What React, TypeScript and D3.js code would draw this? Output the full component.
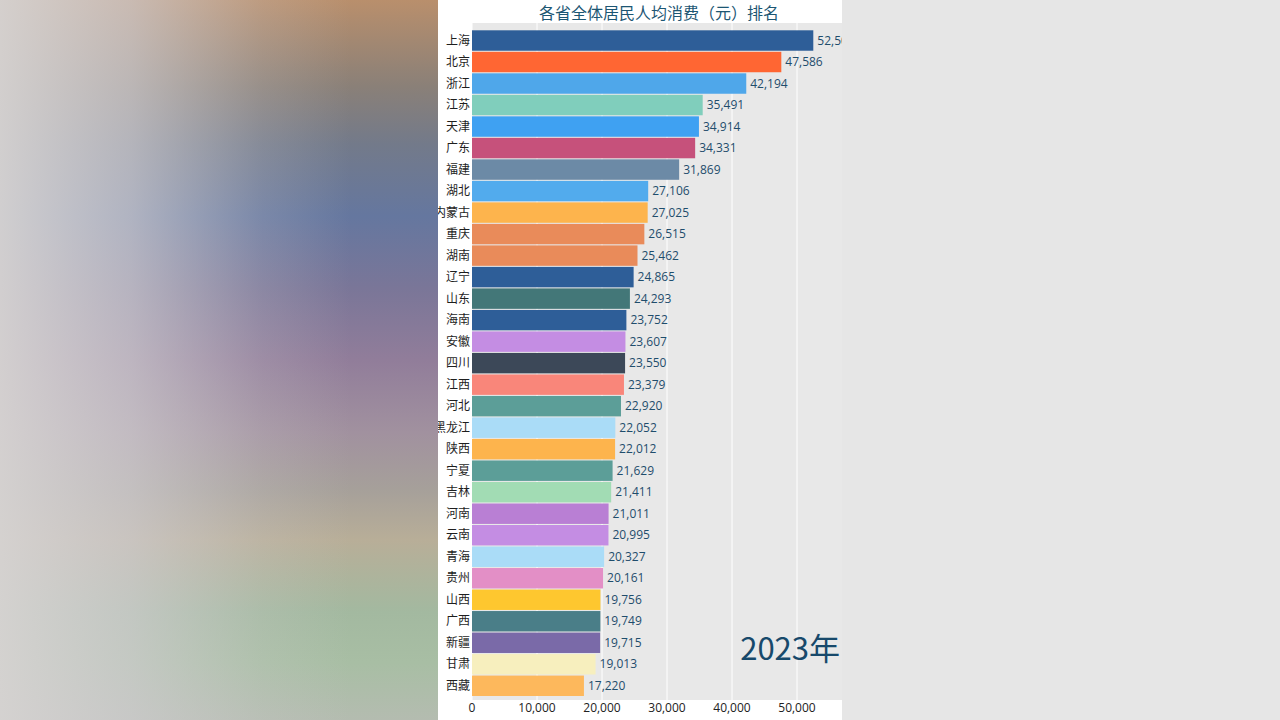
import React from "react";
import * as d3 from "d3";

const provinces = ["上海","北京","浙江","江苏","天津","广东","福建","湖北","内蒙古","重庆","湖南","辽宁","山东","海南","安徽","四川","江西","河北","黑龙江","陕西","宁夏","吉林","河南","云南","青海","贵州","山西","广西","新疆","甘肃","西藏"];
const values = [52508,47586,42194,35491,34914,34331,31869,27106,27025,26515,25462,24865,24293,23752,23607,23550,23379,22920,22052,22012,21629,21411,21011,20995,20327,20161,19756,19749,19715,19013,17220];
const barColors = ["#2e5e98","#ff6633","#4fa7ea","#80cebc","#3fa1f2","#c6517b","#6c8aa6","#52abed","#fdb44d","#e98b5a","#e98b5a","#2e5e98","#437778","#2e5e98","#c48de3","#3c4858","#f9867a","#5c9e98","#aadcf7","#fdb44d","#5c9e98","#a2dcb4","#b97fd4","#c48de3","#aadcf7","#e38fc6","#fec72f","#4a7e88","#7a6aa8","#f7efbe","#fdb85c"];
const xTicks = [0,10000,20000,30000,40000,50000];
const title = "各省全体居民人均消费（元）排名";
const yearLabel = "2023年";

export default function App() {
  const panelL = 438, panelR = 842;
  const plotL = 472, plotT = 23, plotB = 700;
  const x = d3.scaleLinear().domain([0, 57000]).range([plotL, plotL + 370.5]);
  const y = d3.scaleBand<string>().domain(provinces).range([30.3, 696]).paddingInner(0.05).paddingOuter(0);
  const fmt = d3.format(",");
  const cjk = "'Noto Sans CJK SC', 'Noto Sans', sans-serif";
  const num = "'Open Sans', 'Noto Sans', sans-serif";
  return (
    <svg width={1280} height={720} style={{ position: "fixed", left: 0, top: 0 }}>
      <defs>
        <linearGradient id="bgv" x1="0" y1="0" x2="0" y2="1">
          <stop offset="0" stopColor="#b98f6c" />
          <stop offset="0.12" stopColor="#8a8078" />
          <stop offset="0.2" stopColor="#737a8a" />
          <stop offset="0.3" stopColor="#65779f" />
          <stop offset="0.4" stopColor="#7a7698" />
          <stop offset="0.5" stopColor="#917d9a" />
          <stop offset="0.6" stopColor="#a1919f" />
          <stop offset="0.68" stopColor="#a6a09a" />
          <stop offset="0.75" stopColor="#b8ae98" />
          <stop offset="0.85" stopColor="#a3b9a0" />
          <stop offset="0.92" stopColor="#a8bea4" />
          <stop offset="1" stopColor="#b4bcb0" />
        </linearGradient>
        <linearGradient id="bgh" x1="0" y1="0" x2="1" y2="0">
          <stop offset="0" stopColor="#d6d3d2" stopOpacity="0.95" />
          <stop offset="0.3" stopColor="#d0cdd0" stopOpacity="0.7" />
          <stop offset="0.6" stopColor="#d0cdd0" stopOpacity="0.2" />
          <stop offset="0.8" stopColor="#d0cdd0" stopOpacity="0" />
        </linearGradient>
        <clipPath id="panel">
          <rect x={panelL} y={0} width={panelR - panelL} height={720} />
        </clipPath>
      </defs>
      <rect x={0} y={0} width={1280} height={720} fill="#e6e6e6" />
      <rect x={0} y={0} width={panelL} height={720} fill="url(#bgv)" />
      <rect x={0} y={0} width={panelL} height={720} fill="url(#bgh)" />
      <g clipPath="url(#panel)">
        <rect x={panelL} y={0} width={panelR - panelL} height={720} fill="#ffffff" />
        <rect x={plotL} y={plotT} width={panelR - plotL + 2} height={plotB - plotT} fill="#e8e8e8" />
        {xTicks.map((t) => (
          <line key={"g" + t} x1={x(t)} x2={x(t)} y1={plotT} y2={plotB} stroke="#ffffff" strokeWidth={1} />
        ))}
        {provinces.map((p, i) => (
          <rect key={"b" + p} x={x(0)} y={y(p)!} width={x(values[i]) - x(0)} height={y.bandwidth()} fill={barColors[i]} />
        ))}
        {provinces.map((p, i) => (
          <text key={"l" + p} x={plotL - 2} y={y(p)! + y.bandwidth() / 2} dy="0.35em" textAnchor="end" fontSize={12} fontFamily={cjk} fill="#1e1e1e">{p}</text>
        ))}
        {provinces.map((p, i) => (
          <text key={"v" + p} x={x(values[i]) + 4} y={y(p)! + y.bandwidth() / 2} dy="0.35em" fontSize={12} fontFamily={num} fill="#1f4d6c">{fmt(values[i])}</text>
        ))}
        {xTicks.map((t) => (
          <text key={"t" + t} x={x(t)} y={708} dy="0.35em" textAnchor="middle" fontSize={12} fontFamily={num} fill="#222">{fmt(t)}</text>
        ))}
        <text x={659} y={19} textAnchor="middle" fontSize={16} fontFamily={cjk} fill="#1c5673">{title}</text>
        <text x={840} y={660} textAnchor="end" fontSize={31} fontFamily={cjk} fill="#17496b">{yearLabel}</text>
      </g>
    </svg>
  );
}
